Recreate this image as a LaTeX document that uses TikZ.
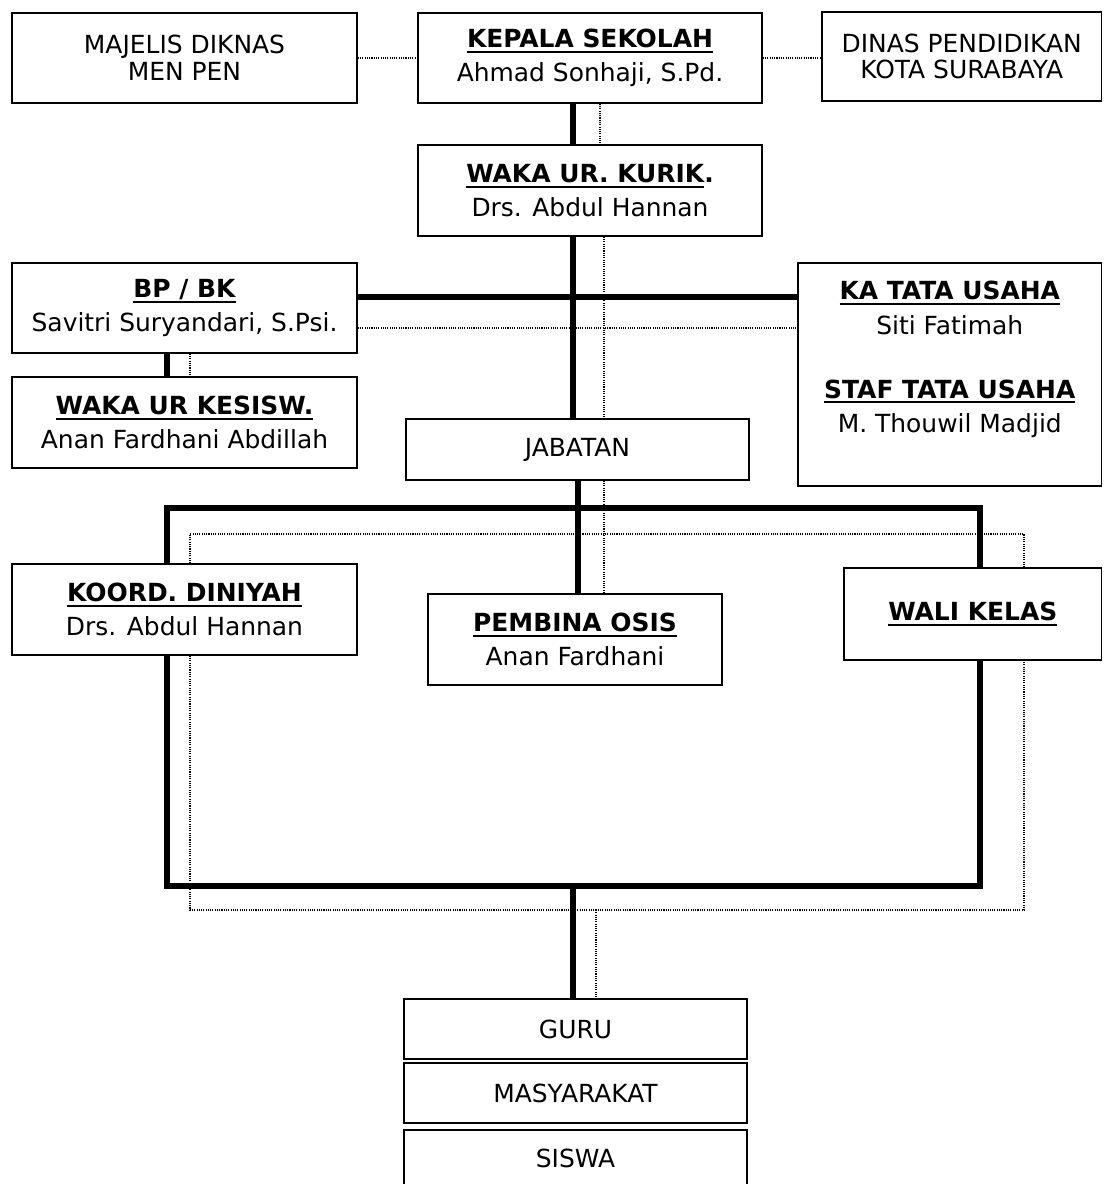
\documentclass[tikz,border=0pt]{standalone}
\usepackage{fontspec}
\setmainfont{DejaVu Sans}
\usetikzlibrary{calc}
\newcommand{\judul}[1]{\setbox0\hbox{\bfseries #1}\rlap{\rule[-4pt]{\wd0}{1.5pt}}\box0}

\tikzset{
	kotak/.style 2 args={draw, line width=1.3pt, minimum width=#1*0.75pt, minimum height=#2*0.75pt,
		inner sep=0pt, align=center, font=\fontsize{18.7}{20}\selectfont},
	garis/.style={line width=3.8pt},
	titik/.style={line width=0.8pt, dash pattern=on 0.8pt off 0.9pt},
}

\begin{document}
\begin{tikzpicture}[x=0.75pt, y=-0.75pt]
		%%%%% START %%%%%
		\useasboundingbox (0,0) rectangle (1103,1184);
		
		% kolom dan baris garis
		\coordinate (k1) at (573,0);
		\coordinate (k2) at (578,0);
		\coordinate (t1) at (600,0);
		\coordinate (t2) at (604,0);
		\coordinate (tb) at (596,0);
		\coordinate (kl) at (167,0);
		\coordinate (kr) at (980,0);
		\coordinate (tl) at (190,0);
		\coordinate (tr) at (1024,0);
		\coordinate (hor1) at (0,297);
		\coordinate (hor2) at (0,328);
		\coordinate (bus1) at (0,508);
		\coordinate (bus2) at (0,534);
		\coordinate (bus3) at (0,886);
		\coordinate (bus4) at (0,910);
		
		% kotak
		\node[kotak={345}{90}] (majelis) at (184.5,58) {MAJELIS DIKNAS\\MEN PEN};
		\node[kotak={344}{90}] (kepala) at (590,58) {\judul{KEPALA SEKOLAH}\\[5.5pt]Ahmad Sonhaji, S.Pd.};
		\node[kotak={279.5}{89}] (dinas) at (961.75,56.5) {DINAS PENDIDIKAN\\KOTA SURABAYA};
		
		\node[kotak={344}{91}] (kurik) at (590,190.5) {\judul{WAKA UR. KURIK}\textbf{.}\\[5.5pt]Drs. Abdul Hannan};
		
		\node[kotak={345}{90}] (bpbk) at (184.5,308) {\judul{BP / BK}\\[5.5pt]Savitri Suryandari, S.Psi.};
		\node[kotak={345}{91}] (kesisw) at (184.5,422.5) {\judul{WAKA UR KESISW.}\\[5.5pt]Anan Fardhani Abdillah};
		
		\node[kotak={303.5}{223}] (tatausaha) at (949.75,374.5) {};
		\node[align=center, inner sep=0pt, font=\fontsize{18.7}{20}\selectfont] (tutext) at ([yshift=11.25pt]tatausaha.center)
			{\judul{KA TATA USAHA}\\[6pt]Siti Fatimah\\[28pt]\judul{STAF TATA USAHA}\\[6pt]M. Thouwil Madjid};
		
		\node[kotak={343}{61}] (jabatan) at (577.5,449.5) {JABATAN};
		
		\node[kotak={345}{91}] (koord) at (184.5,609.5) {\judul{KOORD. DINIYAH}\\[5.5pt]Drs. Abdul Hannan};
		\node[kotak={294}{91}] (pembina) at (575,639.5) {\judul{PEMBINA OSIS}\\[5.5pt]Anan Fardhani};
		\node[kotak={257.5}{92}] (wali) at (972.75,614) {\judul{WALI KELAS}};
		
		\node[kotak={343}{60}] (guru) at (575.5,1029) {GURU};
		\node[kotak={343}{60}] (masyarakat) at (575.5,1093) {MASYARAKAT};
		\node[kotak={343}{57}] (siswa) at (575.5,1158.5) {SISWA};
		
		% garis titik-titik atas
		\draw[titik] (majelis) -- (kepala);
		\draw[titik] (kepala.east) -- (kepala.east -| dinas.west);
		
		% garis tengah
		\draw[garis] (kepala.south -| k1) -- (kurik.north -| k1);
		\draw[titik] (kepala.south -| t1) -- (kurik.north -| t1);
		\draw[garis] (kurik.south -| k1) -- (jabatan.north -| k1);
		\draw[titik] (kurik.south -| t2) -- (jabatan.north -| t2);
		\draw[garis] (jabatan.south -| k2) -- (pembina.north -| k2);
		\draw[titik] (jabatan.south -| t2) -- (pembina.north -| t2);
		
		% bp/bk dan tata usaha
		\draw[garis] (bpbk.east |- hor1) -- (tatausaha.west |- hor1);
		\draw[titik] (bpbk.east |- hor2) -- (tatausaha.west |- hor2);
		\draw[garis] (bpbk.south -| kl) -- (kesisw.north -| kl);
		\draw[titik] (bpbk.south -| tl) -- (kesisw.north -| tl);
		
		% garis ke koord dan wali kelas
		\draw[garis] (koord.north -| kl) -- (bus1 -| kl) -- (bus1 -| kr) -- (wali.north -| kr);
		\draw[titik] (koord.north -| tl) -- (bus2 -| tl) -- (bus2 -| tr) -- (wali.north -| tr);
		\draw[garis] (koord.south -| kl) -- (bus3 -| kl) -- (bus3 -| kr) -- (wali.south -| kr);
		\draw[titik] (koord.south -| tl) -- (bus4 -| tl) -- (bus4 -| tr) -- (wali.south -| tr);
		
		% ke guru
		\draw[garis] (bus3 -| k1) -- (guru.north -| k1);
		\draw[titik] (bus4 -| tb) -- (guru.north -| tb);
		
		%%%%% END %%%%%
\end{tikzpicture}
\end{document}
